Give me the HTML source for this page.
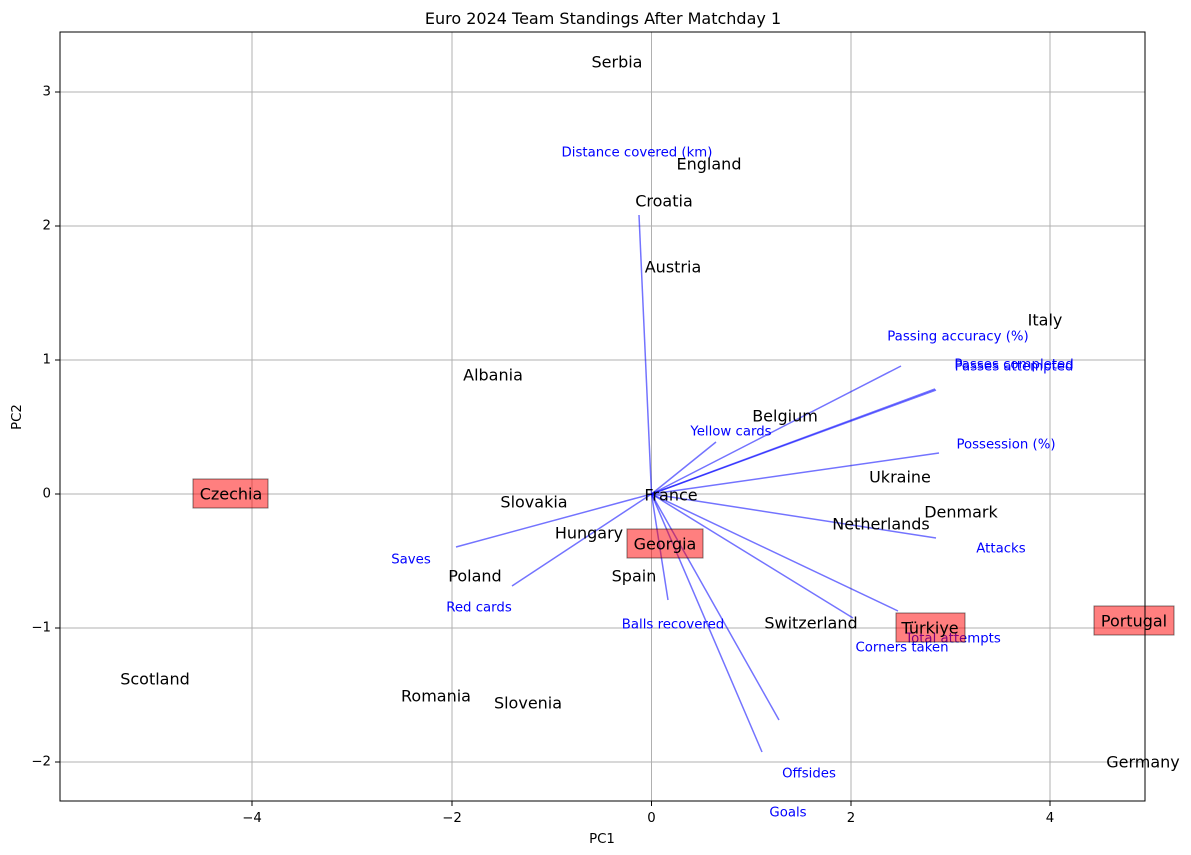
<!DOCTYPE html>
<html><head><meta charset="utf-8"><style>
html,body{margin:0;padding:0;background:#fff;}
svg{display:block;font-family:"DejaVu Sans","Liberation Sans",sans-serif;}
</style></head><body>
<svg width="1191" height="855" viewBox="0 0 1191 855" xmlns="http://www.w3.org/2000/svg">
<rect width="1191" height="855" fill="#fff"/>
<g stroke="#b0b0b0" stroke-width="1">
<line x1="252" y1="32" x2="252" y2="801"/><line x1="452" y1="32" x2="452" y2="801"/><line x1="651.5" y1="32" x2="651.5" y2="801"/><line x1="851" y1="32" x2="851" y2="801"/><line x1="1050" y1="32" x2="1050" y2="801"/>
<line x1="60" y1="92" x2="1145" y2="92"/><line x1="60" y1="226" x2="1145" y2="226"/><line x1="60" y1="360" x2="1145" y2="360"/><line x1="60" y1="494" x2="1145" y2="494"/><line x1="60" y1="628" x2="1145" y2="628"/><line x1="60" y1="762" x2="1145" y2="762"/>
</g>
<g stroke="#0000ff" stroke-opacity="0.55" stroke-width="1.5">
<line x1="651.5" y1="494" x2="639" y2="215"/>
<line x1="651.5" y1="494" x2="901" y2="366"/>
<line x1="651.5" y1="494" x2="935" y2="389"/>
<line x1="651.5" y1="494" x2="936" y2="390"/>
<line x1="651.5" y1="494" x2="716" y2="442"/>
<line x1="651.5" y1="494" x2="939" y2="453"/>
<line x1="651.5" y1="494" x2="936" y2="538"/>
<line x1="651.5" y1="494" x2="898" y2="611"/>
<line x1="651.5" y1="494" x2="853" y2="618"/>
<line x1="651.5" y1="494" x2="779" y2="720"/>
<line x1="651.5" y1="494" x2="762" y2="752"/>
<line x1="651.5" y1="494" x2="668" y2="600"/>
<line x1="651.5" y1="494" x2="512" y2="586"/>
<line x1="651.5" y1="494" x2="456" y2="547"/>
</g>
<g fill="#0000ff" font-size="13.3" text-anchor="middle" dominant-baseline="central">
<text x="637" y="153">Distance covered (km)</text>
<text x="958" y="337">Passing accuracy (%)</text>
<text x="1014" y="365">Passes completed</text>
<text x="1014" y="367">Passes attempted</text>
<text x="731" y="432">Yellow cards</text>
<text x="1006" y="445">Possession (%)</text>
<text x="1001" y="549">Attacks</text>
<text x="953" y="639">Total attempts</text>
<text x="902" y="648">Corners taken</text>
<text x="809" y="774">Offsides</text>
<text x="788" y="813">Goals</text>
<text x="673" y="625">Balls recovered</text>
<text x="479" y="608">Red cards</text>
<text x="411" y="560">Saves</text>
</g>
<g fill="#ff0000" fill-opacity="0.5" stroke="#000" stroke-opacity="0.5" stroke-width="1">
<rect x="193" y="479" width="75" height="29"/>
<rect x="627" y="529" width="76" height="29"/>
<rect x="1094" y="606" width="80" height="29"/>
<rect x="896" y="613" width="69" height="29"/>
</g>
<g fill="#000" font-size="16" text-anchor="middle" dominant-baseline="central">
<text x="617" y="62">Serbia</text>
<text x="709" y="164">England</text>
<text x="664" y="201">Croatia</text>
<text x="673" y="267">Austria</text>
<text x="1045" y="320">Italy</text>
<text x="493" y="375">Albania</text>
<text x="785" y="416">Belgium</text>
<text x="900" y="477">Ukraine</text>
<text x="231" y="494">Czechia</text>
<text x="671" y="495">France</text>
<text x="534" y="502">Slovakia</text>
<text x="961" y="512">Denmark</text>
<text x="881" y="524">Netherlands</text>
<text x="589" y="533">Hungary</text>
<text x="665" y="544">Georgia</text>
<text x="634" y="576">Spain</text>
<text x="475" y="576">Poland</text>
<text x="1134" y="621">Portugal</text>
<text x="930" y="628">Türkiye</text>
<text x="811" y="623">Switzerland</text>
<text x="155" y="679">Scotland</text>
<text x="436" y="696">Romania</text>
<text x="528" y="703">Slovenia</text>
<text x="1143" y="762">Germany</text>
</g>
<rect x="60" y="32" width="1085" height="769" fill="none" stroke="#000" stroke-width="1"/>
<g stroke="#000" stroke-width="1">
<line x1="252" y1="801" x2="252" y2="806"/><line x1="452" y1="801" x2="452" y2="806"/><line x1="651.5" y1="801" x2="651.5" y2="806"/><line x1="851" y1="801" x2="851" y2="806"/><line x1="1050" y1="801" x2="1050" y2="806"/>
<line x1="55" y1="92" x2="60" y2="92"/><line x1="55" y1="226" x2="60" y2="226"/><line x1="55" y1="360" x2="60" y2="360"/><line x1="55" y1="494" x2="60" y2="494"/><line x1="55" y1="628" x2="60" y2="628"/><line x1="55" y1="762" x2="60" y2="762"/>
</g>
<g font-size="13.3" fill="#000" text-anchor="middle">
<text x="252" y="822">−4</text><text x="452" y="822">−2</text><text x="651.5" y="822">0</text><text x="851" y="822">2</text><text x="1050" y="822">4</text>
</g>
<g font-size="13.3" fill="#000" text-anchor="end" dominant-baseline="central">
<text x="51" y="92">3</text><text x="51" y="226">2</text><text x="51" y="360">1</text><text x="51" y="494">0</text><text x="51" y="628">−1</text><text x="51" y="762">−2</text>
</g>
<text x="602" y="843" font-size="13.3" text-anchor="middle">PC1</text>
<text x="0" y="0" font-size="13.3" text-anchor="middle" transform="translate(21,417) rotate(-90)">PC2</text>
<text x="603" y="24" font-size="16" text-anchor="middle">Euro 2024 Team Standings After Matchday 1</text>
</svg>
</body></html>
